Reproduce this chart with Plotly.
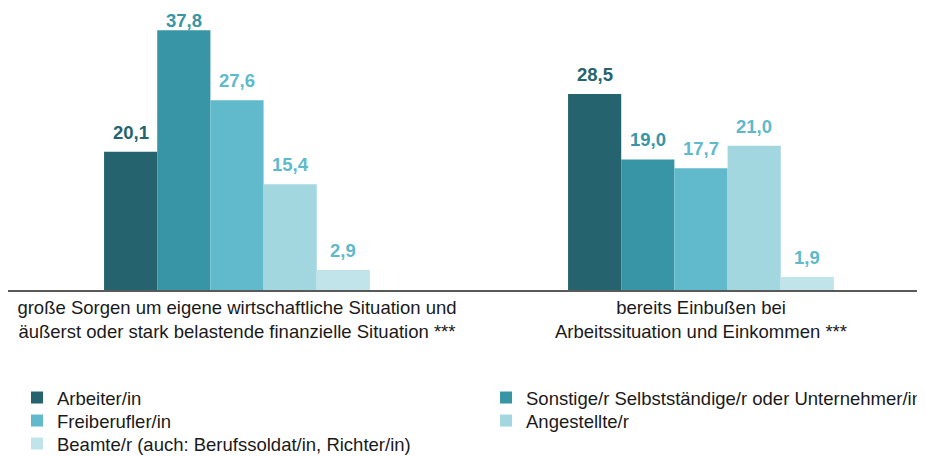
import plotly.graph_objects as go

categories = [
    "große Sorgen um eigene wirtschaftliche Situation und<br>äußerst oder stark belastende finanzielle Situation ***",
    "bereits Einbußen bei<br>Arbeitssituation und Einkommen ***",
]
series_names = [
    "Arbeiter/in",
    "Sonstige/r Selbstständige/r oder Unternehmer/in",
    "Freiberufler/in",
    "Angestellte/r",
    "Beamte/r (auch: Berufssoldat/in, Richter/in)",
]
arbeiter = [20.1, 28.5]
sonstige = [37.8, 19.0]
freiberufler = [27.6, 17.7]
angestellte = [15.4, 21.0]
beamte = [2.9, 1.9]
series_values = [arbeiter, sonstige, freiberufler, angestellte, beamte]

bar_colors = ["#25646e", "#3795a6", "#60bacb", "#a3d7e0", "#c0e4ea"]
text_colors = ["#25646e", "#3795a6", "#60bacb", "#5ebacb", "#5ebacb"]

# one legend box per entry, laid out as in the reference (two columns)
legend_ids = ["legend", "legend2", "legend3", "legend4", "legend5"]
legend_pos = [(0.0098, -0.3236), (0.5213, -0.3236),
              (0.0098, -0.4073), (0.5213, -0.4073),
              (0.0098, -0.4909)]

FONT = "Liberation Sans, Arial, sans-serif"
FS = 18.5
YMAX = 40
bargap = 0.427
n = len(series_values)
bw = (1 - bargap) / n

fig = go.Figure()
annotations = []
for i, (name, vals) in enumerate(zip(series_names, series_values)):
    fig.add_trace(go.Bar(
        x=list(range(len(categories))), y=vals, name=name,
        marker=dict(color=bar_colors[i], line=dict(width=0)),
        hoverinfo="skip", legend=legend_ids[i],
    ))
    for ci, v in enumerate(vals):
        annotations.append(dict(
            x=ci + (i - (n - 1) / 2) * bw, y=v, xref="x", yref="y",
            text="<b>" + f"{v:.1f}".replace(".", ",") + "</b>",
            showarrow=False, yanchor="bottom",
            yshift=7 if v < 0.9 * YMAX else -3,
            font=dict(family=FONT, size=FS, color=text_colors[i]),
        ))

legend_common = dict(
    orientation="v", xanchor="left", yanchor="top",
    font=dict(family=FONT, size=FS, color="#1a1a1a"),
    traceorder="normal", itemclick=False, tracegroupgap=0,
    bgcolor="rgba(0,0,0,0)", borderwidth=0,
)
legends = {}
for lid, (lx, ly) in zip(legend_ids, legend_pos):
    legends[lid] = dict(x=lx, y=ly, **legend_common)

fig.update_layout(
    width=917, height=449,
    margin=dict(l=0, r=0, t=7, b=167, autoexpand=False),
    paper_bgcolor="white", plot_bgcolor="white",
    barmode="group", bargap=bargap, bargroupgap=0,
    font=dict(family=FONT, size=FS, color="#1a1a1a"),
    annotations=annotations,
    showlegend=True,
    **legends,
)
fig.update_xaxes(
    range=[-0.4935, 1.4828], tickmode="array",
    tickvals=list(range(len(categories))), ticktext=categories,
    showline=True, linecolor="#595959", linewidth=1.5,
    showgrid=False, zeroline=False, ticks="", automargin=False,
    tickfont=dict(family=FONT, size=FS, color="#1a1a1a"),
)
fig.update_yaxes(range=[0, YMAX], visible=False, showgrid=False, zeroline=False)

fig.write_html("out.html")
